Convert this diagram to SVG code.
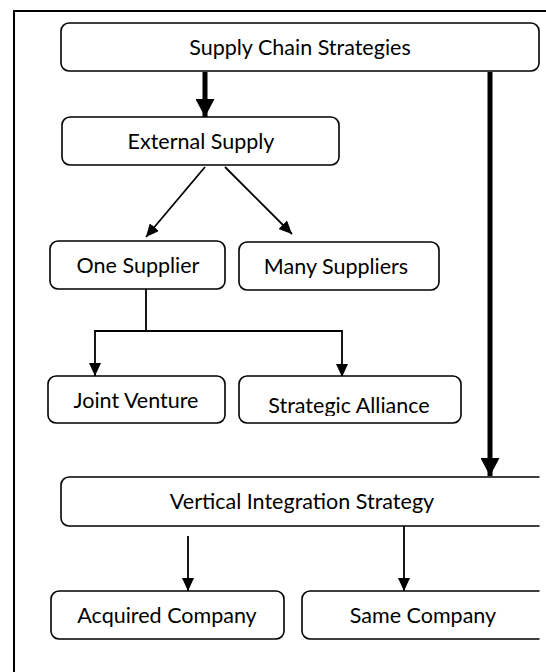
<svg xmlns="http://www.w3.org/2000/svg" width="546" height="672" viewBox="0 0 546 672">
<defs>
<style>
.box{fill:#fff;stroke:#000;stroke-width:1.6}
.t{font-family:Lato,"Open Sans","Liberation Sans",sans-serif;font-size:21.5px;fill:#000;text-anchor:middle}
.thin{fill:none;stroke:#000;stroke-width:1.8}
.thick{fill:none;stroke:#000;stroke-width:5}
</style>
<marker id="ah" markerUnits="userSpaceOnUse" viewBox="0 0 13 12" markerWidth="13" markerHeight="12" refX="13" refY="6" orient="auto">
<path d="M0,0 L13,6 L0,12 Z" fill="#000"/>
</marker>
<marker id="ahb" markerUnits="userSpaceOnUse" viewBox="0 0 18 19" markerWidth="18" markerHeight="19" refX="18" refY="9.5" orient="auto">
<path d="M0,0 L18,9.5 L0,19 Z" fill="#000"/>
</marker>
<clipPath id="crop"><rect x="0" y="0" width="539.5" height="672"/></clipPath>
<clipPath id="cutSA"><rect x="230" y="370" width="240" height="46"/></clipPath>
</defs>
<rect x="14" y="11" width="600" height="700" fill="none" stroke="#000" stroke-width="2"/>
<g id="connectors">
<line class="thick" x1="205" y1="72" x2="205" y2="117" marker-end="url(#ahb)"/>
<line class="thick" x1="490" y1="72" x2="490" y2="476" marker-end="url(#ahb)"/>
<line class="thin" x1="205" y1="167" x2="146" y2="237" marker-end="url(#ah)"/>
<line class="thin" x1="225" y1="167" x2="292" y2="234" marker-end="url(#ah)"/>
<polyline class="thin" points="146,288 146,331 95,331 95,376" marker-end="url(#ah)"/>
<polyline class="thin" points="146,331 342,331 342,377" marker-end="url(#ah)"/>
<line class="thin" x1="188" y1="536" x2="188" y2="591" marker-end="url(#ah)"/>
<line class="thin" x1="404" y1="526" x2="404" y2="591" marker-end="url(#ah)"/>
</g>
<g id="n-supply-chain">
<rect class="box" x="61" y="23" width="478" height="48" rx="8"/>
<text class="t" x="300" y="55">Supply Chain Strategies</text>
</g>
<g id="n-external">
<rect class="box" x="62" y="117" width="277" height="48" rx="8"/>
<text class="t" x="201" y="149">External Supply</text>
</g>
<g id="n-one">
<rect class="box" x="50" y="241" width="175" height="48" rx="8"/>
<text class="t" x="138" y="273">One Supplier</text>
</g>
<g id="n-many">
<rect class="box" x="239" y="242" width="200" height="48" rx="8"/>
<text class="t" x="336" y="274">Many Suppliers</text>
</g>
<g id="n-joint">
<rect class="box" x="48" y="376" width="177" height="47" rx="8"/>
<text class="t" x="136" y="408">Joint Venture</text>
</g>
<g id="n-strategic">
<rect class="box" x="239" y="376" width="222" height="47" rx="8"/>
<text class="t" x="349" y="413" clip-path="url(#cutSA)">Strategic Alliance</text>
</g>
<g id="n-vertical" clip-path="url(#crop)">
<rect class="box" x="61" y="477" width="500" height="49" rx="8"/>
<text class="t" x="302" y="509">Vertical Integration Strategy</text>
</g>
<g id="n-acquired">
<rect class="box" x="51" y="591" width="233" height="48" rx="8"/>
<text class="t" x="167" y="623">Acquired Company</text>
</g>
<g id="n-same" clip-path="url(#crop)">
<rect class="box" x="302" y="591" width="260" height="48" rx="8"/>
<text class="t" x="423" y="623">Same Company</text>
</g>
</svg>
